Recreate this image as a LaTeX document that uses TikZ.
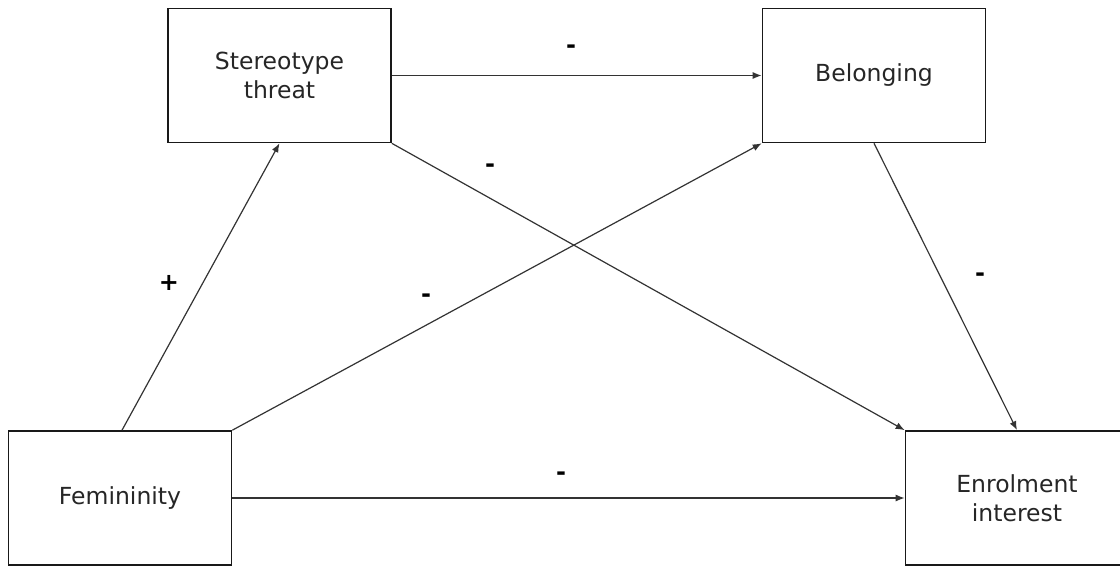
\documentclass[tikz,border=0pt]{standalone}
\usepackage{fontspec}
\setmainfont{DejaVu Sans}
\usetikzlibrary{arrows.meta}
\begin{document}
\begin{tikzpicture}[x=1pt,y=-1pt,
  box/.style={draw=black!90,line width=1.6pt,rectangle,minimum width=223pt,minimum height=134pt,
    align=center,inner sep=0pt,font=\fontsize{23.5}{29.5}\selectfont,text=black!85},
  conn/.style={draw=black!80,line width=1.2pt,-{Latex[length=9pt,width=7pt]}},
  sign/.style={font=\fontsize{24}{28}\selectfont\bfseries,text=black,inner sep=0pt}]
\useasboundingbox (0,0) rectangle (1120,566);
\clip (0,0) rectangle (1120,566);
\fill[white] (0,0) rectangle (1120,566);
\node[box] (st) at (279.5,75.5) {Stereotype\\threat};
\node[box] (bel) at (874,75.5) {Belonging};
\node[box] (fem) at (120,498) {Femininity};
\node[box] (enr) at (1017,498) {Enrolment\\interest};
\draw[conn] (st.east) -- (bel.west);
\draw[conn] ([xshift=2pt]fem.north) -- (st.south);
\draw[conn] (fem.north east) -- (bel.south west);
\draw[conn] (st.south east) -- (enr.north west);
\draw[conn] (bel.south) -- (enr.north);
\draw[conn] (fem.east) -- (enr.west);
\node[sign] (s1) at (571,49) {-};
\node[sign,font=\fontsize{24}{28}\selectfont] (s2) at (169,283) {\textbf{+}};
\node[sign] (s3) at (426,298) {-};
\node[sign] (s4) at (490,168) {-};
\node[sign] (s5) at (980,277) {-};
\node[sign] (s6) at (561,476) {-};
\end{tikzpicture}
\end{document}
